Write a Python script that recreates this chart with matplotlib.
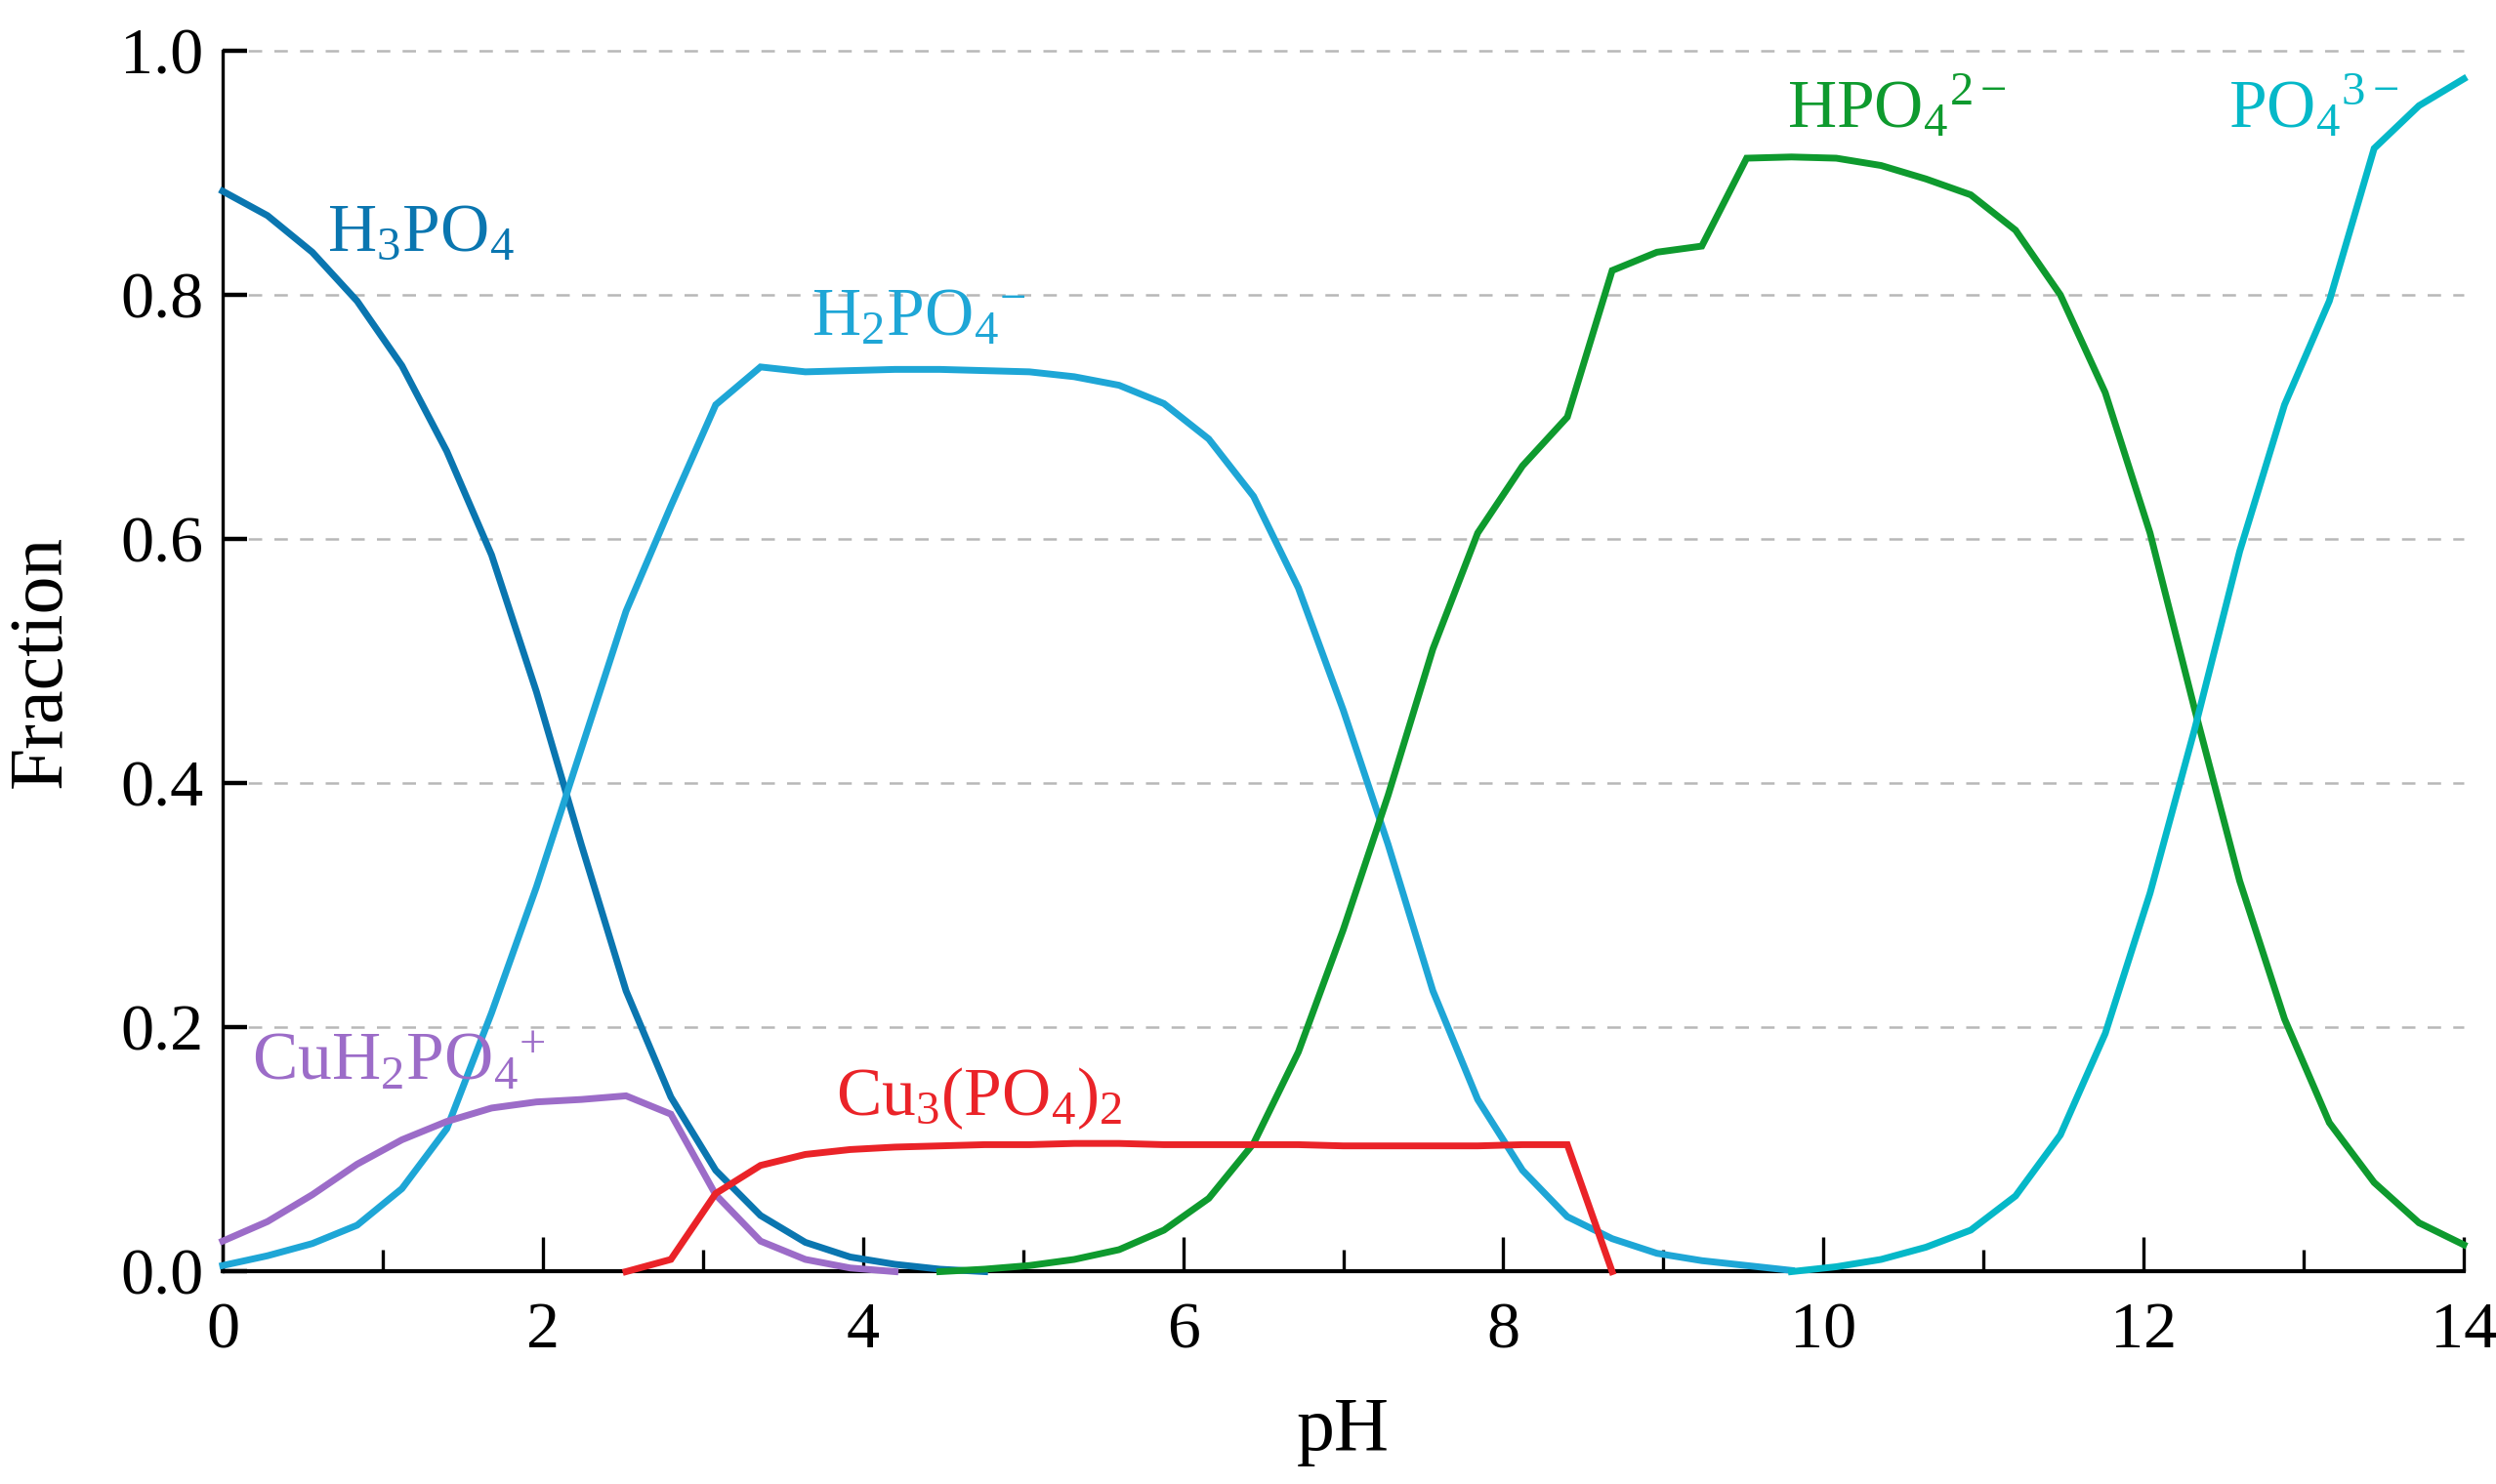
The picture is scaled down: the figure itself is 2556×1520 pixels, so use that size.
import matplotlib
matplotlib.use("Agg")
import matplotlib.pyplot as plt

plt.rcParams['font.family'] = ['Liberation Serif', 'DejaVu Serif']
plt.rcParams['mathtext.fontset'] = 'custom'
plt.rcParams['mathtext.rm'] = 'Liberation Serif'
plt.rcParams['mathtext.it'] = 'Liberation Serif:italic'
plt.rcParams['mathtext.bf'] = 'Liberation Serif:bold'

# pH grid (step 0.28)
ph = [0.00, 0.28, 0.56, 0.84, 1.12, 1.40, 1.68, 1.96, 2.24, 2.52,
      2.80, 3.08, 3.36, 3.64, 3.92, 4.20, 4.48, 4.76, 5.04, 5.32,
      5.60, 5.88, 6.16, 6.44, 6.72, 7.00, 7.28, 7.56, 7.84, 8.12,
      8.40, 8.68, 8.96, 9.24, 9.52, 9.80, 10.08, 10.36, 10.64, 10.92,
      11.20, 11.48, 11.76, 12.04, 12.32, 12.60, 12.88, 13.16, 13.44, 13.72,
      14.00]

# H3PO4 : indices 0..17
h3po4 = [0.885, 0.865, 0.835, 0.795, 0.742, 0.672, 0.587, 0.475, 0.350, 0.230,
         0.143, 0.083, 0.046, 0.024, 0.012, 0.006, 0.002, 0.000]
# H2PO4- : indices 0..35
h2po4 = [0.005, 0.013, 0.023, 0.038, 0.068, 0.117, 0.212, 0.315, 0.428, 0.541,
         0.627, 0.710, 0.741, 0.737, 0.738, 0.739, 0.739, 0.738, 0.737, 0.733,
         0.726, 0.711, 0.682, 0.635, 0.560, 0.460, 0.350, 0.230, 0.141, 0.083,
         0.045, 0.027, 0.015, 0.009, 0.005, 0.001]
# HPO4 2- : indices 16..50
hpo4 = [0.000, 0.002, 0.005, 0.010, 0.018, 0.034, 0.060, 0.105, 0.180, 0.280,
        0.390, 0.510, 0.605, 0.660, 0.700, 0.820, 0.835, 0.840, 0.912, 0.913,
        0.912, 0.906, 0.895, 0.882, 0.853, 0.800, 0.720, 0.605, 0.460, 0.320,
        0.207, 0.122, 0.073, 0.040, 0.022]
# PO4 3- : indices 35..50
po4 = [0.000, 0.004, 0.010, 0.020, 0.034, 0.062, 0.112, 0.195, 0.310, 0.445,
       0.590, 0.710, 0.795, 0.920, 0.955, 0.977]
# CuH2PO4+ : indices 0..15
cuh2po4 = [0.025, 0.041, 0.063, 0.088, 0.108, 0.123, 0.134, 0.139, 0.141, 0.144,
           0.129, 0.063, 0.025, 0.010, 0.003, 0.000]
# Cu3(PO4)2 : indices 9..31
cu3po42 = [0.000, 0.010, 0.064, 0.087, 0.096, 0.100, 0.102, 0.103, 0.104, 0.104,
           0.105, 0.105, 0.104, 0.104, 0.104, 0.104, 0.103, 0.103, 0.103, 0.103,
           0.104, 0.104, 0.000]

series = [
    (ph[0:18], h3po4, '#0a76b0'),
    (ph[0:36], h2po4, '#1ea6d6'),
    (ph[16:51], hpo4, '#0e9a2e'),
    (ph[35:51], po4, '#05b8c8'),
    (ph[0:16], cuh2po4, '#9c6cc8'),
    (ph[9:32], cu3po42, '#ea2328'),
]

labels = [
    (r'H$_\mathrm{3}$PO$_\mathrm{4}$', 0.65, 0.850, '#0a76b0'),
    (r'H$_\mathrm{2}$PO$_\mathrm{4}$$^\mathrm{−}$', 3.68, 0.780, '#1ea6d6'),
    (r'HPO$_\mathrm{4}$$^\mathrm{2−}$', 9.77, 0.953, '#0e9a2e'),
    (r'PO$_\mathrm{4}$$^\mathrm{3−}$', 12.53, 0.953, '#05b8c8'),
    (r'CuH$_\mathrm{2}$PO$_\mathrm{4}$$^\mathrm{+}$', 0.18, 0.171, '#9c6cc8'),
    (r'Cu$_\mathrm{3}$(PO$_\mathrm{4}$)$_\mathrm{2}$', 3.83, 0.142, '#ea2328'),
]

fig = plt.figure(figsize=(12.78, 7.60), dpi=200)
ax = fig.add_axes([0.0892, 0.1431, 0.8979, 0.8227])

for y in [0.2, 0.4, 0.6, 0.8, 1.0]:
    ax.plot([0, 14], [y, y], color='#b8b8b8', lw=0.9, dashes=(5.5, 5.0), zorder=1,
            clip_on=False)

for xs, ys, c in series:
    ax.plot(xs, ys, color=c, lw=2.5, solid_joinstyle='miter', zorder=3, clip_on=False)

for txt, x, y, c in labels:
    ax.text(x, y, txt, color=c, fontsize=25, ha='left', va='center')

ax.set_xlim(0, 14)
ax.set_ylim(0, 1.0)
ax.spines['top'].set_visible(False)
ax.spines['right'].set_visible(False)
ax.spines['left'].set_linewidth(1.2)
ax.spines['bottom'].set_linewidth(1.5)

ax.set_xticks([0, 2, 4, 6, 8, 10, 12, 14])
ax.set_xticks([1, 3, 5, 7, 9, 11, 13], minor=True)
ax.set_yticks([0.0, 0.2, 0.4, 0.6, 0.8, 1.0])
ax.set_yticklabels(['0.0', '0.2', '0.4', '0.6', '0.8', '1.0'])
ax.tick_params(axis='x', which='major', direction='in', length=12.5, width=1.2,
               labelsize=24.5, pad=11)
ax.tick_params(axis='x', which='minor', direction='in', length=7.8, width=1.2)
ax.tick_params(axis='y', which='major', direction='in', length=9, width=1.6,
               labelsize=24.5, pad=7)

ax.set_xlabel('pH', fontsize=28, labelpad=13)
ax.set_ylabel('Fraction', fontsize=28, labelpad=16)

fig.savefig('out.png', dpi=200)
